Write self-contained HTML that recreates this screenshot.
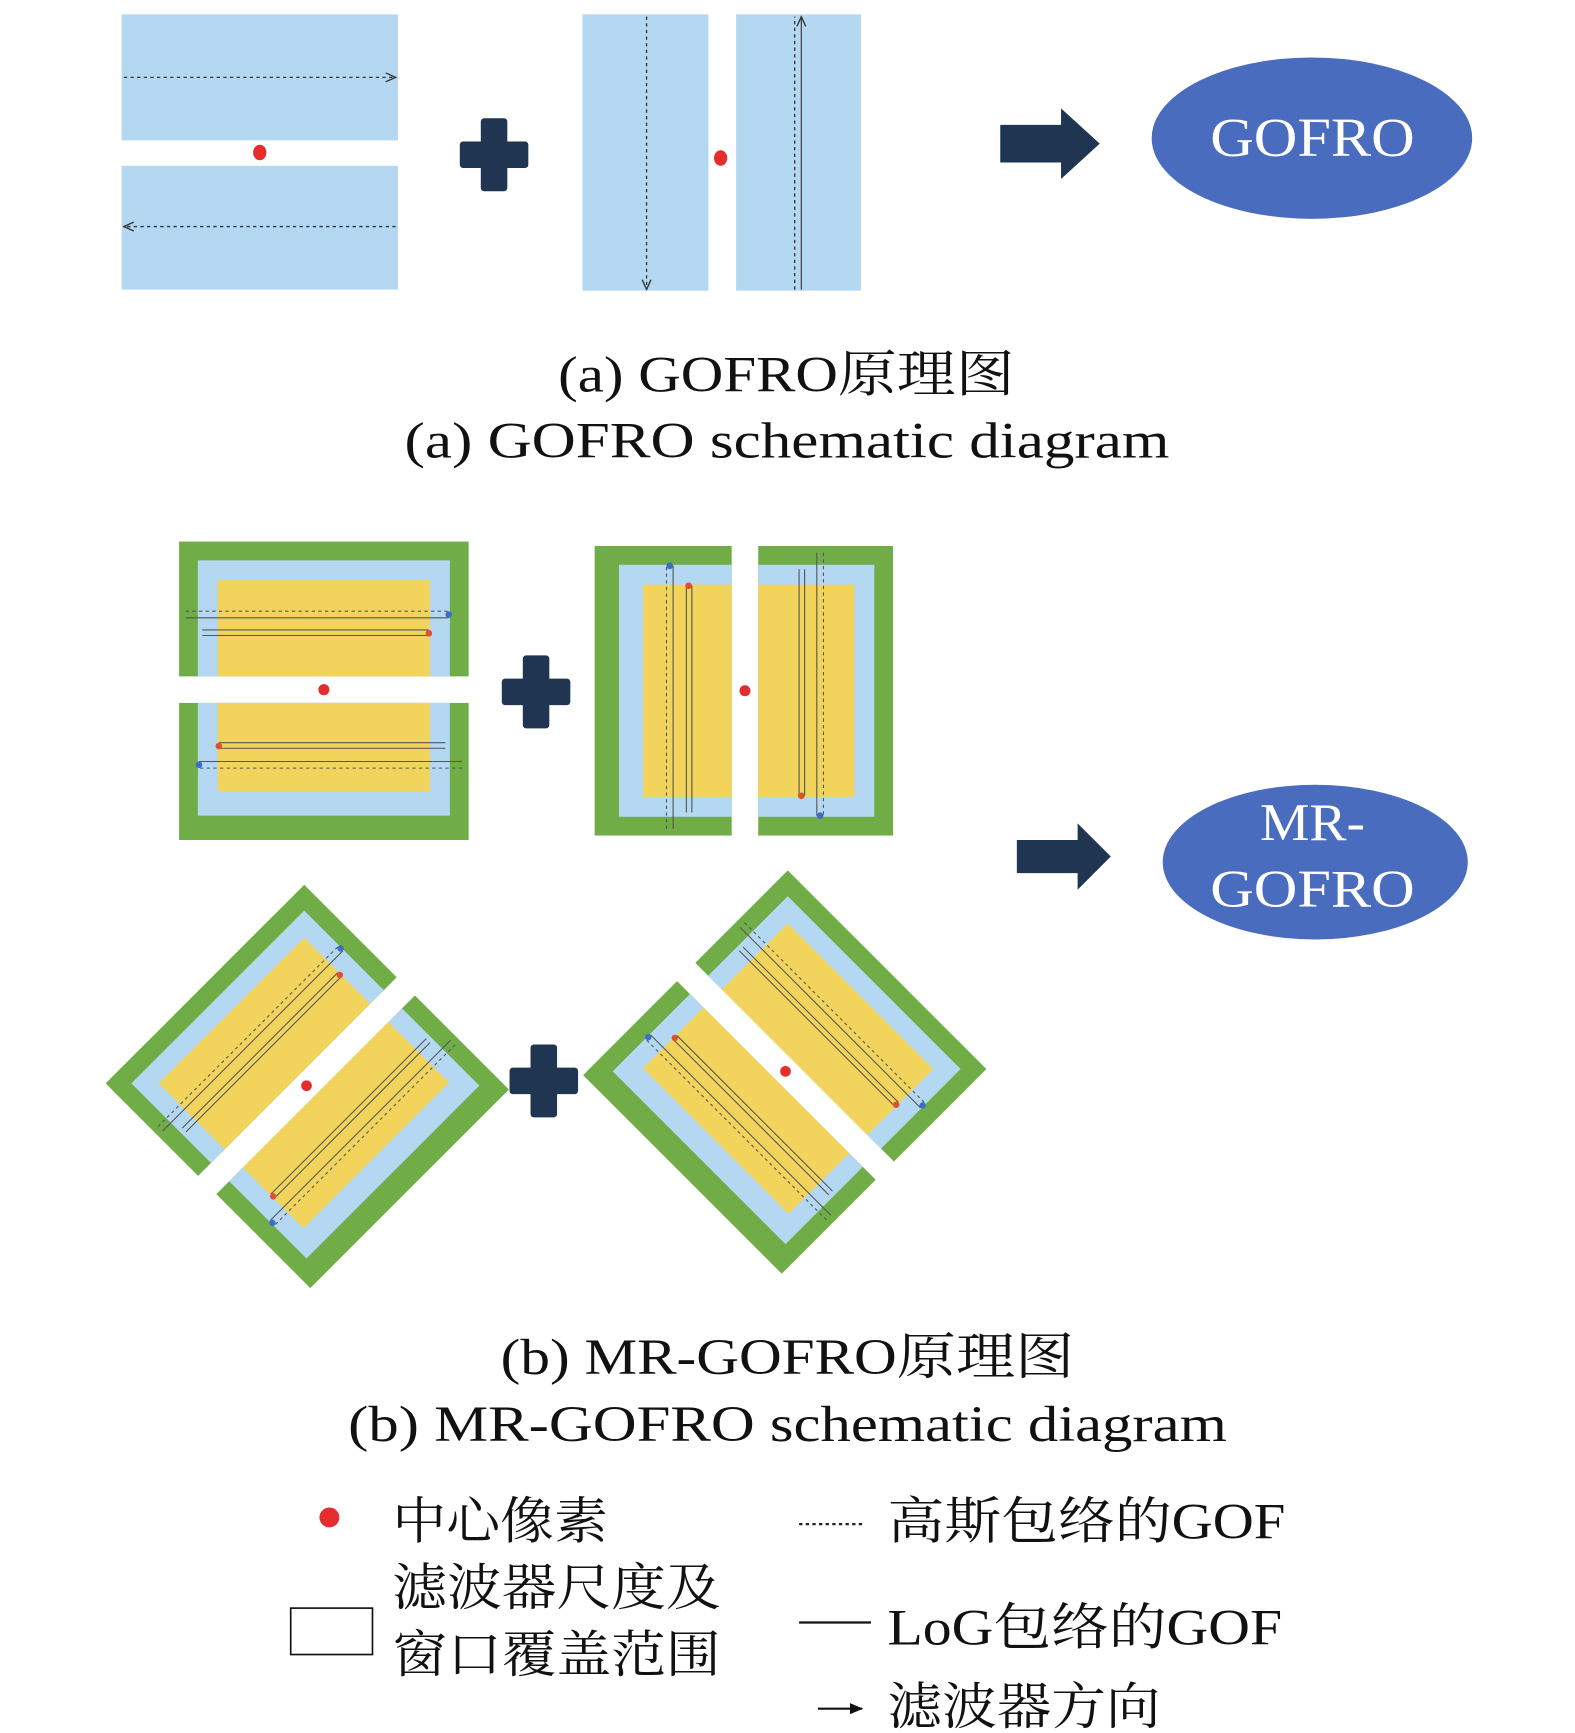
<!DOCTYPE html>
<html><head><meta charset="utf-8"><style>
html,body{margin:0;padding:0;background:#fff;}
svg{display:block;}
text{font-family:"Liberation Serif","Noto Serif CJK SC",serif;fill:#111;}
</style></head><body>
<svg width="1575" height="1733" viewBox="0 0 1425 1568" xmlns="http://www.w3.org/2000/svg">
<defs>
<marker id="ah" markerWidth="10" markerHeight="10" refX="9" refY="5" orient="auto" markerUnits="userSpaceOnUse"><path d="M0,1 L9,5 L0,9" fill="none" stroke="#333" stroke-width="1.2"/></marker>
<marker id="ahf" markerWidth="12" markerHeight="10" refX="11" refY="5" orient="auto" markerUnits="userSpaceOnUse"><path d="M0,0 L12,5 L0,10 z" fill="#111"/></marker>
<g id="plus"><rect x="-31" y="-12" width="62" height="24" rx="3" fill="#1f3552"/><rect x="-12" y="-33" width="24" height="66" rx="3" fill="#1f3552"/></g>
<g id="blk">
 <rect x="-131" y="-135" width="262" height="122" fill="#70ad47"/>
 <rect x="-114" y="-118" width="228" height="105" fill="#b4d7f2"/>
 <rect x="-96" y="-100" width="192" height="87" fill="#f2d45c"/>
 <rect x="-131" y="11" width="262" height="124" fill="#70ad47"/>
 <rect x="-114" y="11" width="228" height="102" fill="#b4d7f2"/>
 <rect x="-96" y="11" width="192" height="80" fill="#f2d45c"/>
 <g stroke="#555" stroke-width="1" fill="none">
  <line x1="-125" y1="-72" x2="113" y2="-72" stroke-dasharray="3,3"/>
  <line x1="-125" y1="-66" x2="113" y2="-66"/>
  <line x1="-110" y1="-55" x2="95" y2="-55"/>
  <line x1="-110" y1="-50" x2="95" y2="-50"/>
  <line x1="125" y1="70" x2="-113" y2="70" stroke-dasharray="3,3"/>
  <line x1="125" y1="64" x2="-113" y2="64"/>
  <line x1="110" y1="52" x2="-95" y2="52"/>
  <line x1="110" y1="47" x2="-95" y2="47"/>
 </g>
 <circle cx="113" cy="-69" r="3" fill="#3a6fc4"/><circle cx="95" cy="-52" r="3" fill="#e05030"/>
 <circle cx="-113" cy="67" r="3" fill="#3a6fc4"/><circle cx="-95" cy="50" r="3" fill="#e05030"/>
 <circle cx="0" cy="-1" r="5" fill="#e52d2d"/>
</g>
</defs>

<!-- (a) -->
<rect x="110" y="13" width="250" height="114" fill="#b4d7f2"/>
<rect x="110" y="150" width="250" height="112" fill="#b4d7f2"/>
<line x1="112" y1="70" x2="358" y2="70" stroke="#333" stroke-width="1.2" stroke-dasharray="3,3" marker-end="url(#ah)"/>
<line x1="358" y1="205" x2="112" y2="205" stroke="#333" stroke-width="1.2" stroke-dasharray="3,3" marker-end="url(#ah)"/>
<ellipse cx="235" cy="138" rx="6" ry="7" fill="#e52d2d"/>
<use href="#plus" x="447" y="140"/>
<rect x="527" y="13" width="114" height="250" fill="#b4d7f2"/>
<rect x="666" y="13" width="113" height="250" fill="#b4d7f2"/>
<line x1="585" y1="15" x2="585" y2="262" stroke="#333" stroke-width="1.2" stroke-dasharray="3,3" marker-end="url(#ah)"/>
<line x1="719" y1="262" x2="719" y2="15" stroke="#333" stroke-width="1.2" stroke-dasharray="3,3"/>
<line x1="725" y1="262" x2="725" y2="15" stroke="#333" stroke-width="1" marker-end="url(#ah)"/>
<ellipse cx="652" cy="143" rx="6" ry="7" fill="#e52d2d"/>
<path d="M905,113 H960 V98 L995,130 L960,162 V147 H905 Z" fill="#1f3552"/>
<ellipse cx="1187" cy="125" rx="145" ry="73" fill="#4a6cbf"/>
<text x="1095" y="141" font-size="50" textLength="185" lengthAdjust="spacingAndGlyphs" style="fill:#fff">GOFRO</text>
<text x="505" y="354" font-size="46" textLength="413" lengthAdjust="spacingAndGlyphs">(a) GOFRO原理图</text>
<text x="366" y="414" font-size="46" textLength="692" lengthAdjust="spacingAndGlyphs">(a) GOFRO schematic diagram</text>

<!-- (b) -->
<use href="#blk" transform="translate(293,625)"/>
<use href="#blk" transform="translate(673,625) rotate(90)"/>
<use href="#plus" x="485" y="626"/>
<use href="#blk" transform="translate(278,983) rotate(-45) scale(0.97)"/>
<use href="#blk" transform="translate(710,970) rotate(45) scale(0.97)"/>
<use href="#plus" x="492" y="978"/>
<path d="M920,760 H975 V745 L1005,775 L975,805 V790 H920 Z" fill="#1f3552"/>
<ellipse cx="1190" cy="780" rx="138" ry="70" fill="#4a6cbf"/>
<text x="1140" y="760" font-size="48" textLength="95" lengthAdjust="spacingAndGlyphs" style="fill:#fff">MR-</text>
<text x="1095" y="820" font-size="48" textLength="185" lengthAdjust="spacingAndGlyphs" style="fill:#fff">GOFRO</text>
<text x="453" y="1243" font-size="46" textLength="519" lengthAdjust="spacingAndGlyphs">(b) MR-GOFRO原理图</text>
<text x="315" y="1304" font-size="46" textLength="795" lengthAdjust="spacingAndGlyphs">(b) MR-GOFRO schematic diagram</text>

<!-- legend -->
<circle cx="298" cy="1373" r="9" fill="#e52d2d"/>
<text x="355" y="1392" font-size="46" textLength="195" lengthAdjust="spacingAndGlyphs">中心像素</text>
<line x1="723" y1="1379" x2="783" y2="1379" stroke="#222" stroke-width="2" stroke-dasharray="3,3"/>
<text x="803" y="1392" font-size="46" textLength="360" lengthAdjust="spacingAndGlyphs">高斯包络的GOF</text>
<rect x="263" y="1455" width="74" height="42" fill="#fff" stroke="#111" stroke-width="1.5"/>
<text x="355" y="1452" font-size="46" textLength="297" lengthAdjust="spacingAndGlyphs">滤波器尺度及</text>
<text x="355" y="1513" font-size="46" textLength="297" lengthAdjust="spacingAndGlyphs">窗口覆盖范围</text>
<line x1="723" y1="1468" x2="788" y2="1468" stroke="#111" stroke-width="2"/>
<text x="803" y="1488" font-size="46" textLength="357" lengthAdjust="spacingAndGlyphs">LoG包络的GOF</text>
<line x1="740" y1="1546" x2="780" y2="1546" stroke="#111" stroke-width="2" marker-end="url(#ahf)"/>
<text x="803" y="1560" font-size="46" textLength="247" lengthAdjust="spacingAndGlyphs">滤波器方向</text>
</svg>
</body></html>
